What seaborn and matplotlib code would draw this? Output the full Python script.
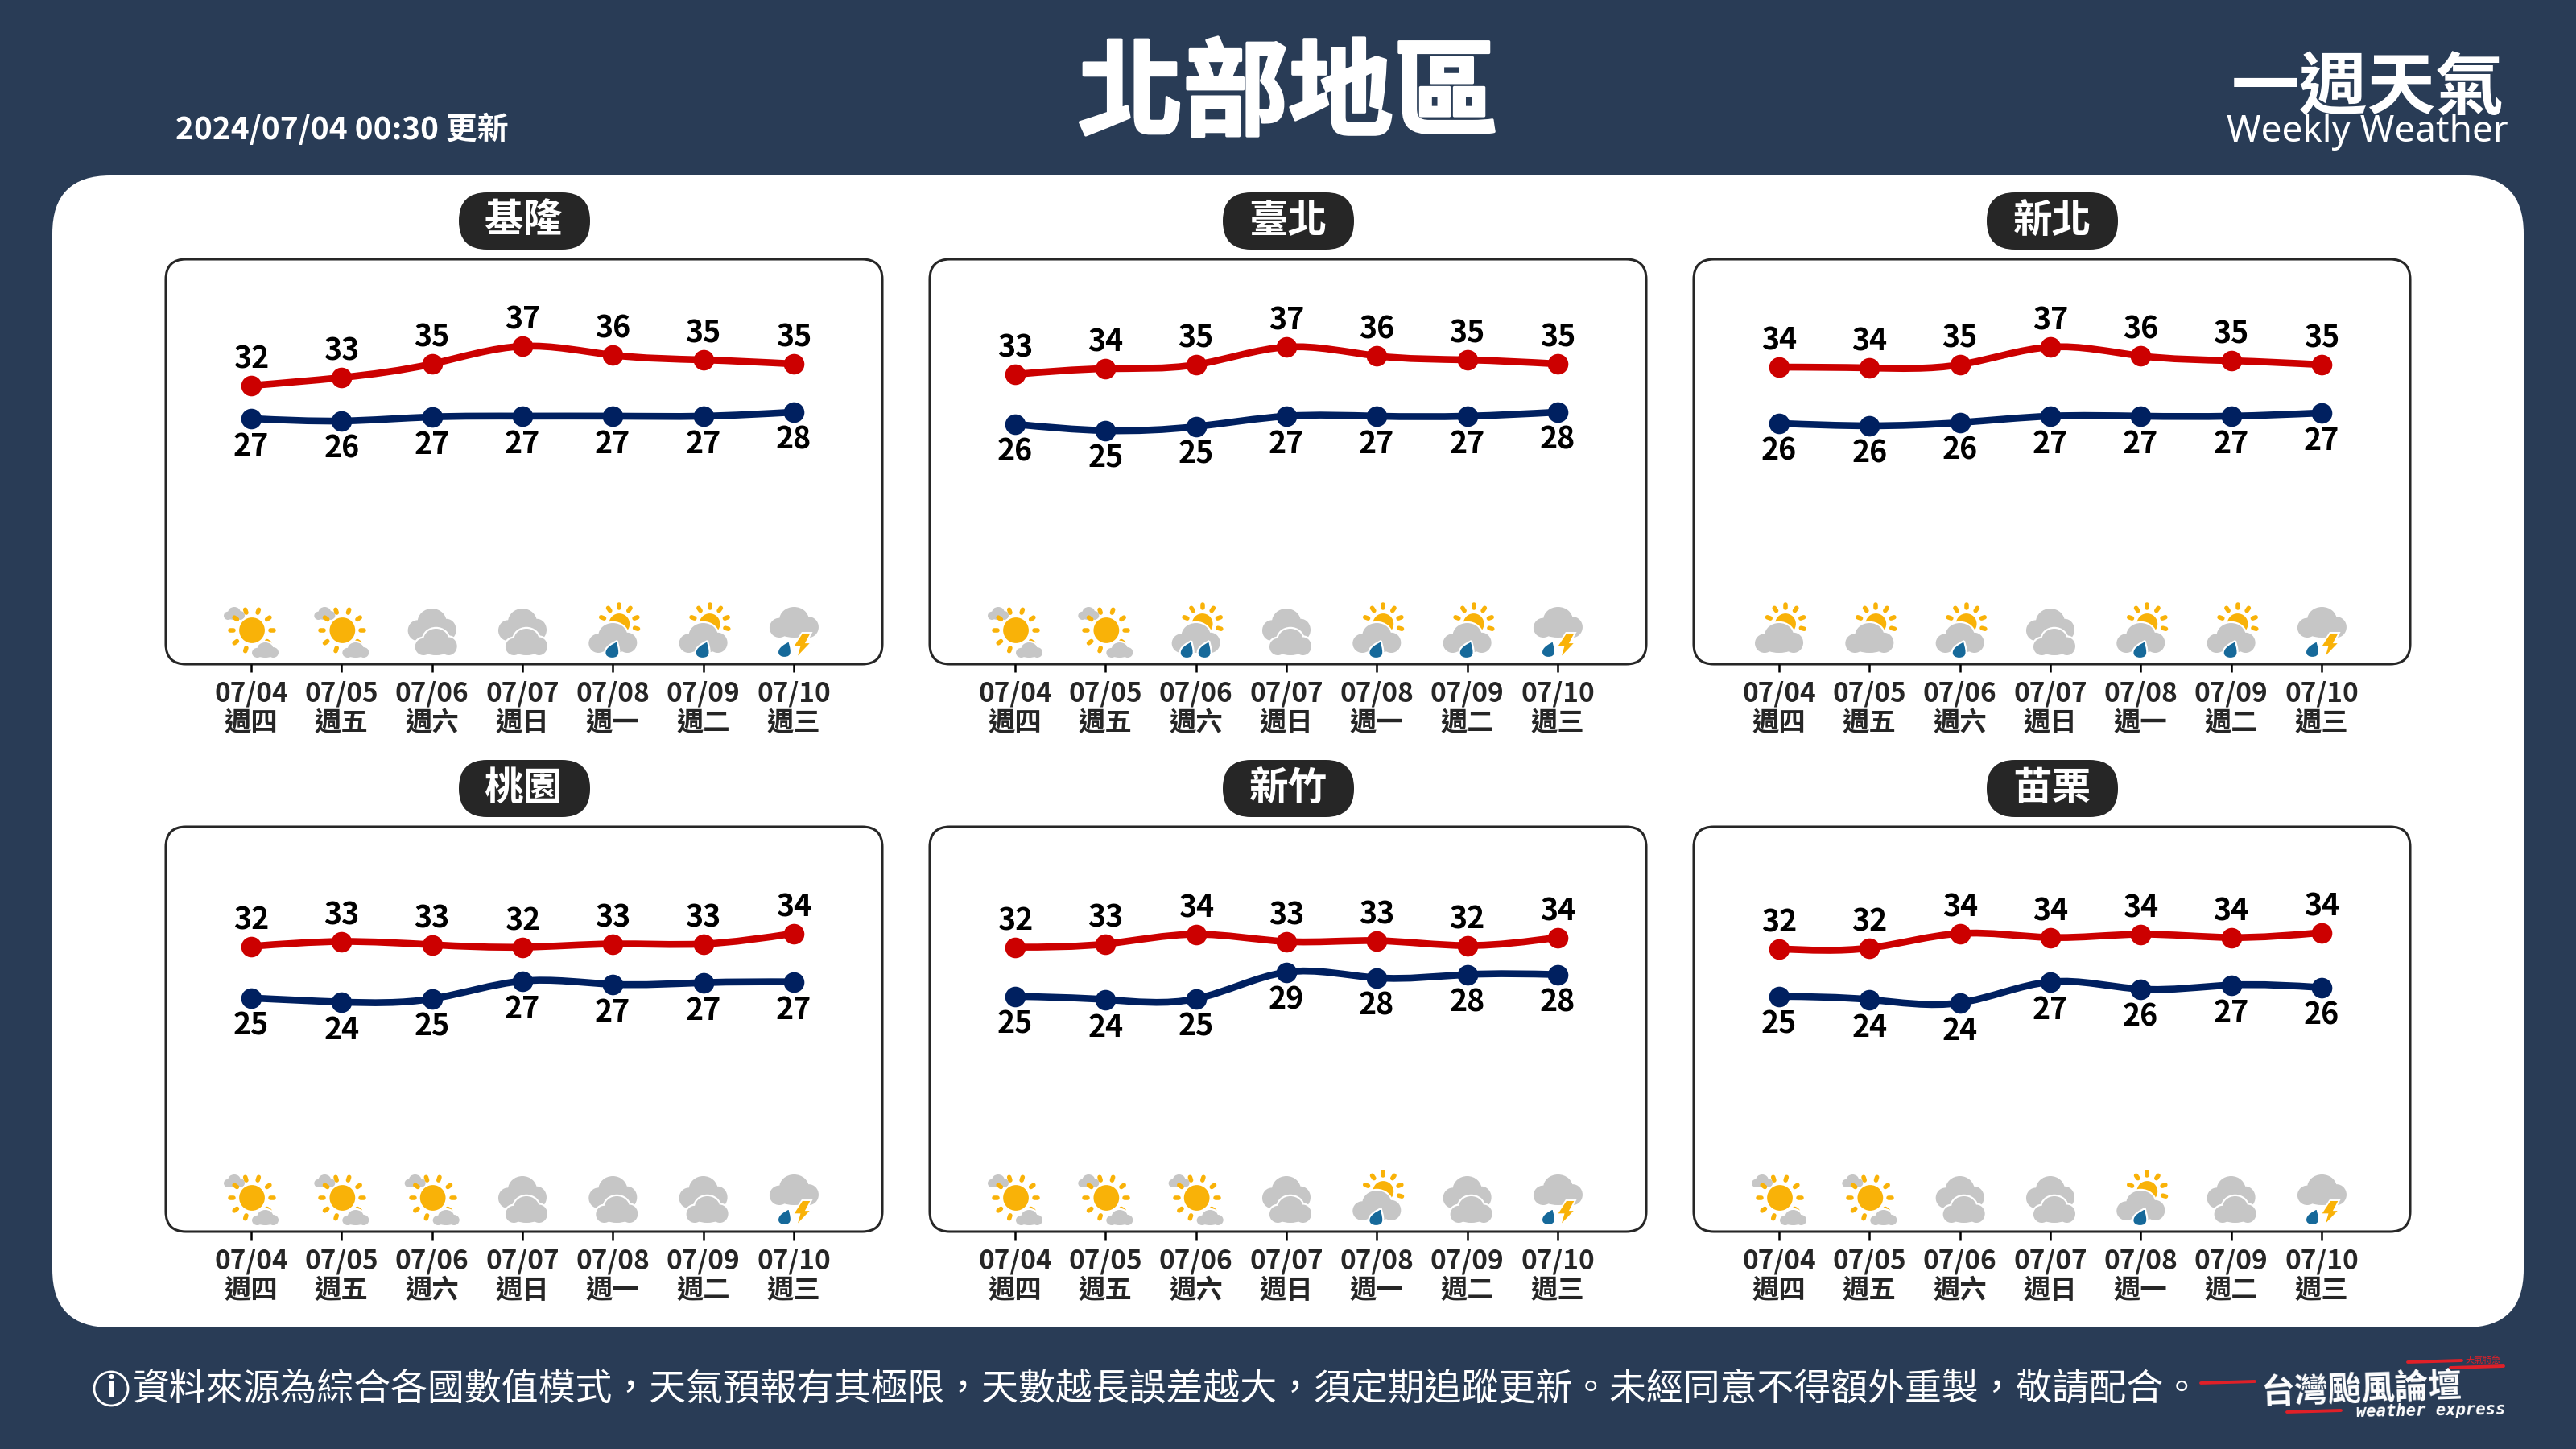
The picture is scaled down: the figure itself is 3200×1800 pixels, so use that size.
import numpy as np
import pandas as pd
import matplotlib
matplotlib.use("Agg")
import matplotlib.pyplot as plt
import matplotlib.patheffects as pe
from matplotlib.patches import Circle, Ellipse, FancyBboxPatch, PathPatch, Polygon
from matplotlib.path import Path
import seaborn as sns

# Data
dates = ["07/04", "07/05", "07/06", "07/07", "07/08", "07/09", "07/10"]
weekdays = ["週四", "週五", "週六", "週日", "週一", "週二", "週三"]
cities = ["基隆", "臺北", "新北", "桃園", "新竹", "苗栗"]

keelung_high = [32.1, 33.1, 34.8, 37.0, 35.9, 35.3, 34.8]
keelung_low = [27.2, 26.9, 27.4, 27.5, 27.5, 27.5, 28.0]
keelung_high_label = [32, 33, 35, 37, 36, 35, 35]
keelung_low_label = [27, 26, 27, 27, 27, 27, 28]
keelung_icons = ["S", "S", "O", "O", "R", "R", "T"]

taipei_high = [33.5, 34.2, 34.7, 36.9, 35.8, 35.3, 34.8]
taipei_low = [26.5, 25.7, 26.2, 27.5, 27.5, 27.5, 28.0]
taipei_high_label = [33, 34, 35, 37, 36, 35, 35]
taipei_low_label = [26, 25, 25, 27, 27, 27, 28]
taipei_icons = ["S", "S", "D", "O", "R", "R", "T"]

newtaipei_high = [34.4, 34.3, 34.7, 36.9, 35.8, 35.2, 34.7]
newtaipei_low = [26.6, 26.3, 26.7, 27.5, 27.5, 27.5, 27.9]
newtaipei_high_label = [34, 34, 35, 37, 36, 35, 35]
newtaipei_low_label = [26, 26, 26, 27, 27, 27, 27]
newtaipei_icons = ["P", "P", "R", "O", "R", "R", "T"]

taoyuan_high = [32.4, 33.0, 32.6, 32.3, 32.7, 32.7, 34.0]
taoyuan_low = [25.0, 24.5, 24.9, 27.1, 26.7, 26.9, 27.0]
taoyuan_high_label = [32, 33, 33, 32, 33, 33, 34]
taoyuan_low_label = [25, 24, 25, 27, 27, 27, 27]
taoyuan_icons = ["S", "S", "S", "O", "O", "O", "T"]

hsinchu_high = [32.3, 32.7, 33.9, 33.0, 33.1, 32.5, 33.5]
hsinchu_low = [25.2, 24.8, 24.9, 28.2, 27.5, 27.9, 27.9]
hsinchu_high_label = [32, 33, 34, 33, 33, 32, 34]
hsinchu_low_label = [25, 24, 25, 29, 28, 28, 28]
hsinchu_icons = ["S", "S", "S", "O", "R", "O", "T"]

miaoli_high = [32.1, 32.2, 34.0, 33.5, 33.9, 33.5, 34.1]
miaoli_low = [25.2, 24.8, 24.4, 27.0, 26.1, 26.6, 26.3]
miaoli_high_label = [32, 32, 34, 34, 34, 34, 34]
miaoli_low_label = [25, 24, 24, 27, 26, 27, 26]
miaoli_icons = ["S", "S", "O", "O", "R", "O", "T"]

high_values = [keelung_high, taipei_high, newtaipei_high, taoyuan_high, hsinchu_high, miaoli_high]
low_values = [keelung_low, taipei_low, newtaipei_low, taoyuan_low, hsinchu_low, miaoli_low]
high_labels = [keelung_high_label, taipei_high_label, newtaipei_high_label,
               taoyuan_high_label, hsinchu_high_label, miaoli_high_label]
low_labels = [keelung_low_label, taipei_low_label, newtaipei_low_label,
              taoyuan_low_label, hsinchu_low_label, miaoli_low_label]
icon_rows = [keelung_icons, taipei_icons, newtaipei_icons, taoyuan_icons, hsinchu_icons, miaoli_icons]

# y limits of the high and low axes, per row of panels
high_ylim = [(-2.57, 47.83), (-2.97, 47.23)]
low_ylim = [(-3.37, 47.03), (-3.97, 46.23)]

NAVY = "#293C56"
RED = "#CC0000"
BLUE = "#002060"
DARK = "#262626"
SUN = "#F9B208"
CLOUD = "#C6C6C6"
DROP = "#16699A"
LOGO_RED = "#E02028"

sns.set_theme(style="white")
plt.rcParams["font.family"] = ["Noto Sans CJK TC", "DejaVu Sans"]

fig = plt.figure(figsize=(16, 9), dpi=200, facecolor=NAVY)
bg = fig.add_axes([0, 0, 1, 1], zorder=0)
bg.set_xlim(0, 3200)
bg.set_ylim(1800, 0)
bg.axis("off")


def round_box(x0, y0, x1, y1, r, **kw):
    bg.add_patch(FancyBboxPatch((x0, y0), x1 - x0, y1 - y0,
                                boxstyle=f"round,pad=0,rounding_size={r}", **kw))


def cloud(x, y, w, h, outline=True):
    shapes = [(0.5, 0.42, 0.3, 0.42), (0.2, 0.68, 0.2, 0.32), (0.8, 0.66, 0.2, 0.34), (0.5, 0.75, 0.34, 0.25)]
    for color, lw, z in ([("white", 1.6, 3)] if outline else []) + [(CLOUD, 0, 3)]:
        for cx, cy, rx, ry in shapes:
            bg.add_patch(Ellipse((x + cx * w, y + cy * h), 2 * rx * w, 2 * ry * h,
                                 fc=color, ec=color, lw=lw, zorder=z))


def sun(cx, cy, r, angles):
    bg.add_patch(Circle((cx, cy), r, fc=SUN, ec="white", lw=0.8, zorder=3))
    for a in angles:
        c, s = np.cos(np.radians(a)), -np.sin(np.radians(a))
        bg.plot([cx + (r + 6) * c, cx + (r + 10) * c], [cy + (r + 6) * s, cy + (r + 10) * s],
                color=SUN, lw=2.0, solid_capstyle="round", zorder=3)


def drop(x, y, w, h):
    verts = [(0.85, 0), (0.5, 0.15), (0, 0.35), (0, 0.68), (0, 0.9), (0.25, 1), (0.5, 1),
             (0.8, 1), (1, 0.9), (1, 0.65), (1, 0.4), (0.9, 0.2), (0.85, 0)]
    codes = [Path.MOVETO] + [Path.CURVE4] * 12
    pts = [(x + a * w, y + b * h) for a, b in verts]
    bg.add_patch(PathPatch(Path(pts, codes), fc=DROP, ec="white", lw=0.8, zorder=4))


def bolt(x, y, w, h):
    shape = [(0.5, 0), (1, 0), (0.72, 0.38), (1, 0.38), (0.18, 1), (0.36, 0.54), (0, 0.54)]
    bg.add_patch(Polygon([(x + a * w, y + b * h) for a, b in shape], fc=SUN, ec="white", lw=0.7, zorder=4))


def draw_icon(kind, cx, top):
    if kind == "S":
        cloud(cx - 34, top, 26, 16, outline=False)
        sun(cx + 1, top + 29, 17, range(0, 360, 36))
        cloud(cx + 1, top + 44, 33, 19)
    elif kind == "O":
        cloud(cx - 30, top + 2, 60, 40, outline=False)
        cloud(cx - 21, top + 27, 52, 33)
    elif kind in ("R", "D", "P"):
        sun(cx + 8, top + 21, 14, [160, 125, 90, 55, 20, -15])
        cloud(cx - 30, top + 20, 60, 37)
        if kind == "R":
            drop(cx - 10, top + 42, 18, 22)
        elif kind == "D":
            drop(cx - 20, top + 42, 17, 22)
            drop(cx + 2, top + 42, 17, 22)
    else:
        cloud(cx - 30, top, 61, 38, outline=False)
        drop(cx - 20, top + 42, 17, 21)
        bolt(cx - 1, top + 32, 23, 32)


def smooth_curve(ax, values, color):
    # natural spline through the points, drawn as bezier segments
    y = np.array(values)
    n = len(y)
    A = np.zeros((n, n))
    b = np.zeros(n)
    for i in range(n):
        if i == 0:
            A[i, :2] = [2, 1]
            b[i] = 3 * (y[1] - y[0])
        elif i == n - 1:
            A[i, -2:] = [1, 2]
            b[i] = 3 * (y[-1] - y[-2])
        else:
            A[i, i - 1:i + 2] = [1, 4, 1]
            b[i] = 3 * (y[i + 1] - y[i - 1])
    m = np.linalg.solve(A, b)
    pts = [(0, y[0])]
    codes = [Path.MOVETO]
    for i in range(n - 1):
        pts += [(i + 1 / 3, y[i] + m[i] / 3), (i + 2 / 3, y[i + 1] - m[i + 1] / 3), (i + 1, y[i + 1])]
        codes += [Path.CURVE4] * 3
    ax.add_patch(PathPatch(Path(pts, codes), fc="none", ec=color, lw=3.1, capstyle="butt", zorder=2))


# Title area
bg.text(1600, 120, "北部地區", color="white", fontsize=47, fontweight="bold", ha="center", va="center",
        path_effects=[pe.withStroke(linewidth=1.2, foreground="white")])
bg.text(218, 161, "2024/07/04 00:30 更新", color="white", fontsize=14, fontweight="bold", ha="left", va="center")
bg.text(2941, 110, "一週天氣", color="white", fontsize=30.5, fontweight="bold", ha="center", va="center")
bg.text(2941, 164, "Weekly Weather", color="white", fontsize=16.5, family="Noto Sans", ha="center", va="center")

round_box(65, 218, 3135, 1649, 72, fc="white", ec="none")

# Panels
box_lefts = [206, 1155, 2104]
box_tops = [322, 1027]
BOX_W, BOX_H = 890, 503
for p, city in enumerate(cities):
    row, col = p // 3, p % 3
    x0, y0 = box_lefts[col], box_tops[row]
    round_box(x0, y0, x0 + BOX_W, y0 + BOX_H, 25, fc="white", ec=DARK, lw=1.1)
    round_box(x0 + 364, y0 - 83, x0 + 527, y0 - 12, 35, fc=DARK, ec="none")
    bg.text(x0 + 445, y0 - 48, city, color="white", fontsize=17.5, fontweight="bold", ha="center", va="center")

    ax = fig.add_axes([x0 / 3200, 1 - (y0 + BOX_H) / 1800, BOX_W / 3200, BOX_H / 1800], zorder=1)
    tw = ax.twinx()
    tw.set_zorder(2)
    df = pd.DataFrame({"day": range(7), "high": high_values[p], "low": low_values[p]})

    smooth_curve(ax, df["high"], RED)
    sns.scatterplot(data=df, x="day", y="high", ax=ax, s=85, color=RED, linewidth=0, zorder=3)
    smooth_curve(tw, df["low"], BLUE)
    sns.scatterplot(data=df, x="day", y="low", ax=tw, s=85, color=BLUE, linewidth=0, zorder=3)

    for i in range(7):
        ax.annotate(str(high_labels[p][i]), (i, df["high"][i]), xytext=(0, 11.8), textcoords="offset points",
                    ha="center", va="center", fontsize=13.5, fontweight="bold", color="black")
        tw.annotate(str(low_labels[p][i]), (i, df["low"][i]), xytext=(0, -12.4), textcoords="offset points",
                    ha="center", va="center", fontsize=13.5, fontweight="bold", color="black")

    ax.set_xlim(-0.944, 6.98)
    ax.set_ylim(*high_ylim[row])
    tw.set_ylim(*low_ylim[row])
    ax.set_xticks(range(7))
    ax.set_xticklabels([f"{d}\n{w}" for d, w in zip(dates, weekdays)], fontsize=12, fontweight="bold",
                       color=DARK, linespacing=1.12)
    ax.tick_params(axis="x", bottom=True, length=3.6, width=0.9, color="black", pad=3.8)
    ax.set_yticks([])
    tw.set_yticks([])
    ax.set_xlabel("")
    ax.set_ylabel("")
    tw.set_ylabel("")
    for a in (ax, tw):
        a.patch.set_visible(False)
        for s in a.spines.values():
            s.set_visible(False)

    for i, kind in enumerate(icon_rows[p]):
        draw_icon(kind, ax.transData.transform((i, 0))[0], y0 + BOX_H - 71)

# Footer
bg.add_patch(Circle((138, 1725), 21, fc="none", ec="white", lw=1))
bg.text(138, 1725, "i", color="white", fontsize=13, ha="center", va="center", fontweight="bold")
bg.text(165, 1725, "資料來源為綜合各國數值模式，天氣預報有其極限，天數越長誤差越大，須定期追蹤更新。未經同意不得額外重製，敬請配合。",
        color="white", fontsize=16.5, fontweight="light", ha="left", va="center")

# Logo
for xa, ya, xb, yb in [(2734, 1718, 2801, 1716), (2841, 1754, 2908, 1752), (2991, 1692, 3058, 1690), (3044, 1699, 3110, 1697)]:
    bg.plot([xa, xb], [ya, yb], color=LOGO_RED, lw=1.4, solid_capstyle="round")
bg.text(2933, 1726, "台灣颱風論壇", color="white", fontsize=15, fontweight="bold", ha="center", va="center", rotation=2)
bg.text(3020, 1752, "weather express", color="white", fontsize=7.4, family="DejaVu Sans Mono", style="italic",
        fontweight="bold", ha="center", va="center", rotation=1)
bg.text(3085, 1690, "天氣特急", color=LOGO_RED, fontsize=4, ha="center", va="center")

fig.savefig("out.png", dpi=200, facecolor=fig.get_facecolor())
